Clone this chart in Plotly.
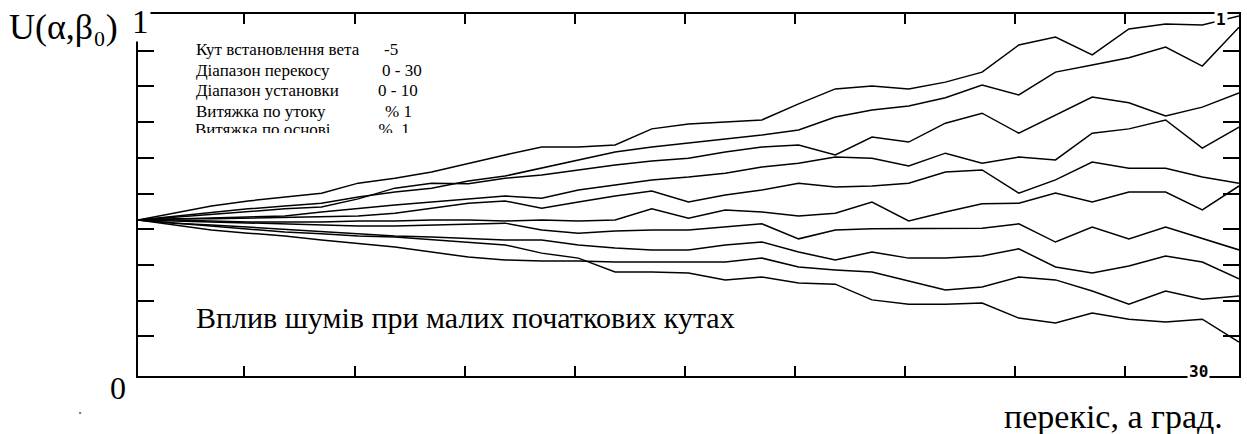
import plotly.graph_objects as go

# ---------------- data ----------------
skew_deg = list(range(31))  # перекіс, град. 0..30

line_a = [0.426,0.445,0.465,0.479,0.490,0.501,0.529,0.543,0.560,0.585,0.608,0.630,0.630,0.636,0.681,0.695,
          0.700,0.706,0.751,0.793,0.801,0.793,0.812,0.840,0.916,0.938,0.888,0.961,0.975,0.972,0.997]
line_b = [0.426,0.437,0.448,0.457,0.465,0.473,0.490,0.504,0.515,0.535,0.549,0.571,0.594,0.616,0.630,0.641,
          0.653,0.664,0.678,0.714,0.734,0.745,0.768,0.804,0.776,0.840,0.860,0.880,0.910,0.857,0.966]
line_c = [0.426,0.434,0.443,0.451,0.457,0.462,0.485,0.515,0.529,0.527,0.543,0.552,0.566,0.580,0.591,0.599,
          0.616,0.630,0.636,0.608,0.658,0.644,0.697,0.725,0.669,0.720,0.770,0.754,0.717,0.742,0.782]
line_d = [0.426,0.429,0.431,0.434,0.437,0.448,0.459,0.468,0.476,0.485,0.493,0.487,0.510,0.524,0.538,0.546,
          0.557,0.574,0.585,0.602,0.599,0.577,0.613,0.585,0.602,0.594,0.669,0.681,0.706,0.627,0.686]
line_e = [0.426,0.429,0.429,0.431,0.431,0.434,0.437,0.445,0.459,0.473,0.479,0.459,0.476,0.493,0.507,0.476,
          0.496,0.510,0.529,0.518,0.521,0.529,0.560,0.566,0.501,0.538,0.588,0.571,0.571,0.546,0.529]
line_f = [0.426,0.426,0.423,0.420,0.420,0.420,0.423,0.423,0.426,0.426,0.423,0.426,0.423,0.426,0.457,0.431,
          0.454,0.448,0.437,0.445,0.476,0.423,0.448,0.471,0.473,0.501,0.476,0.504,0.504,0.454,0.521]
line_g = [0.426,0.423,0.420,0.417,0.415,0.412,0.409,0.409,0.412,0.415,0.417,0.398,0.389,0.395,0.398,0.398,
          0.406,0.415,0.373,0.398,0.401,0.401,0.403,0.403,0.415,0.364,0.406,0.373,0.406,0.373,0.342]
line_h = [0.426,0.417,0.412,0.406,0.401,0.395,0.389,0.381,0.378,0.375,0.370,0.370,0.356,0.347,0.342,0.342,
          0.356,0.364,0.336,0.314,0.336,0.319,0.319,0.325,0.345,0.294,0.277,0.297,0.325,0.308,0.261]
line_i = [0.426,0.412,0.398,0.389,0.381,0.370,0.361,0.350,0.336,0.322,0.314,0.311,0.311,0.308,0.308,0.308,
          0.308,0.319,0.294,0.286,0.280,0.255,0.230,0.238,0.266,0.258,0.227,0.190,0.227,0.204,0.213]
line_j = [0.426,0.417,0.409,0.401,0.392,0.387,0.381,0.378,0.370,0.364,0.356,0.333,0.319,0.280,0.280,0.277,
          0.258,0.266,0.249,0.246,0.202,0.190,0.190,0.193,0.151,0.137,0.165,0.148,0.140,0.148,0.084]

all_lines = [line_a, line_b, line_c, line_d, line_e, line_f, line_g, line_h, line_i, line_j]

x_tick_vals = [2.9, 5.9, 8.9, 11.9, 14.9, 17.9, 20.9, 23.9, 26.9]
y_tick_vals = [0.1, 0.2, 0.3, 0.4, 0.5, 0.6, 0.7, 0.8, 0.9]

param_names = ["Кут встановлення вета", "Діапазон перекосу", "Діапазон установки",
               "Витяжка по утоку", "Витяжка по основі"]
param_values = ["-5", "0 - 30", "0 - 10", "% 1", "%  1"]

# ---------------- figure geometry ----------------
L, R, T, B = 138, 6, 14, 58
W = 1247 - L - R
H = 434 - T - B
X_RANGE = [0, 30]
Y_RANGE = [-0.0112, 1.0028]


def pxx(p):
    return (p - L) / W


def pyy(p):
    return (T + H - p) / H


def data_x(p):
    return X_RANGE[0] + pxx(p) * (X_RANGE[1] - X_RANGE[0])


def data_y(p):
    return Y_RANGE[0] + pyy(p) * (Y_RANGE[1] - Y_RANGE[0])


SERIF = "Liberation Serif"
MONO = "DejaVu Sans Mono"

fig = go.Figure()
for ys in all_lines:
    fig.add_trace(go.Scatter(x=skew_deg, y=ys, mode="lines",
                             line=dict(color="black", width=1.5),
                             hoverinfo="skip", showlegend=False))

# last parameter line (its lower part is cut off in the original)
fig.add_trace(go.Scatter(x=[data_x(195), data_x(379)], y=[data_y(131), data_y(131)],
                         mode="text", text=[param_names[4], param_values[4]],
                         textposition="middle right",
                         textfont=dict(family=SERIF, size=17, color="black"),
                         hoverinfo="skip", showlegend=False, cliponaxis=False))

fig.update_layout(
    width=1247, height=434, autosize=False,
    margin=dict(l=L, r=R, t=T, b=B, pad=0),
    paper_bgcolor="white", plot_bgcolor="white",
    showlegend=False,
)
fig.update_xaxes(range=X_RANGE, showgrid=False, zeroline=False,
                 showline=True, linewidth=2, linecolor="black", mirror="ticks",
                 ticks="inside", ticklen=10, tickwidth=2, tickcolor="black",
                 tickmode="array", tickvals=x_tick_vals, showticklabels=False)
fig.update_yaxes(range=Y_RANGE, showgrid=False, zeroline=False,
                 showline=True, linewidth=2, linecolor="black", mirror="ticks",
                 ticks="inside", ticklen=16, tickwidth=2, tickcolor="black",
                 tickmode="array", tickvals=y_tick_vals, showticklabels=False)

ann = []


def add_text(text, x, y, size, font=SERIF, weight="normal", xanchor="left",
             yanchor="middle", bg=None, **kw):
    d = dict(text=text, x=pxx(x), y=pyy(y), xref="paper", yref="paper",
             xanchor=xanchor, yanchor=yanchor, showarrow=False,
             font=dict(family=font, size=size, color="black", weight=weight),
             borderpad=0)
    if bg:
        d["bgcolor"] = bg
    d.update(kw)
    ann.append(d)


# axis corner labels
add_text("U(α,β₀)", 8, 27, 36)
add_text("1", 141, 22, 33, xanchor="center", bg="white", borderpad=1)
add_text("0", 118, 388, 32, xanchor="center")
add_text("30", 1200, 371, 16, font=MONO, weight="bold", xanchor="center", bg="white", borderpad=1)
add_text("1", 1223, 20, 16, font=MONO, weight="bold", xanchor="center", bg="white", borderpad=1)
add_text("перекіс, а град.", 1226, 416, 34, xanchor="right")

# parameter block
name_y = [50, 70, 90, 111]
val_x = [383, 381, 377, 384]
for nm, vv, yy, xv in zip(param_names[:4], param_values[:4], name_y, val_x):
    add_text(nm, 195, yy, 17)
    add_text(vv, xv, yy, 17)

# caption inside the plot
add_text("Вплив шумів при малих початкових кутах", 195, 317, 30)

fig.update_layout(annotations=ann)

# white band hiding the lower half of the last parameter line
fig.add_shape(type="rect", xref="paper", yref="paper", layer="above",
              x0=pxx(190), x1=pxx(440), y0=pyy(146), y1=pyy(133),
              fillcolor="white", line=dict(width=0))

# small stray dot below the axis label "0"
fig.add_shape(type="rect", xref="paper", yref="paper",
              x0=pxx(79), x1=pxx(81), y0=pyy(414), y1=pyy(412),
              fillcolor="#777", line=dict(width=0))

fig.write_html("out.html")
